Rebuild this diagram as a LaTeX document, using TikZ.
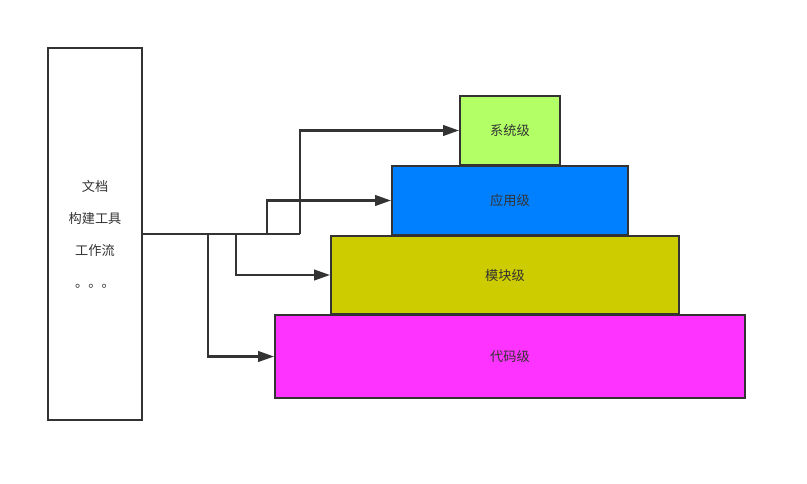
\documentclass[tikz,border=0pt]{standalone}
\usepackage{xcolor}
\usepackage{fontspec}
\usepackage{tikz}
\usetikzlibrary{arrows.meta, positioning}
\newfontfamily\cjk{Noto Sans CJK SC}

\definecolor{linegray}{HTML}{333333}
\definecolor{sysgreen}{HTML}{B3FF66}
\definecolor{appblue}{HTML}{0080FF}
\definecolor{modolive}{HTML}{CCCC00}
\definecolor{codepink}{HTML}{FF33FF}

\begin{document}
\begin{tikzpicture}[
    x=0.02cm,
    y=-0.02cm,
    line width=1.2pt,
    level node/.style={rectangle,draw=linegray,inner sep=0pt,font=\cjk\fontsize{7.5}{9}\selectfont,text=linegray},
    side node/.style={rectangle,draw=linegray,fill=white,inner sep=0pt,align=center,font=\cjk\fontsize{7.5}{18.2}\selectfont,text=linegray},
    arrow/.style={-{Triangle[length=9pt,width=6pt]},draw=linegray,line width=1.2pt}
]
\useasboundingbox (0,0) rectangle (807,483);

\node[side node,minimum width=1.88cm,minimum height=7.44cm] (docs) at (95,234) {文档\\构建工具\\工作流\\。。。};

\node[level node,fill=sysgreen,minimum width=2cm,minimum height=1.38cm] (sys) at (510,130.5) {系统级};
\node[level node,fill=appblue,minimum width=4.72cm,minimum height=1.38cm] (app) at (510,200.5) {应用级};
\node[level node,fill=modolive,minimum width=6.96cm,minimum height=1.56cm] (mod) at (505,275) {模块级};
\node[level node,fill=codepink,minimum width=9.4cm,minimum height=1.66cm] (code) at (510,356.5) {代码级};

\coordinate (j1) at (300,234);
\coordinate (j2) at (267,234);
\coordinate (j3) at (236,234);
\coordinate (j4) at (208,234);

\draw[linegray] (docs.east) -- (j1);
\draw[arrow] (j1) |- (sys.west);
\draw[arrow] (j2) |- (app.west);
\draw[arrow] (j3) |- (mod.west);
\draw[arrow] (j4) |- (code.west);

\end{tikzpicture}
\end{document}
